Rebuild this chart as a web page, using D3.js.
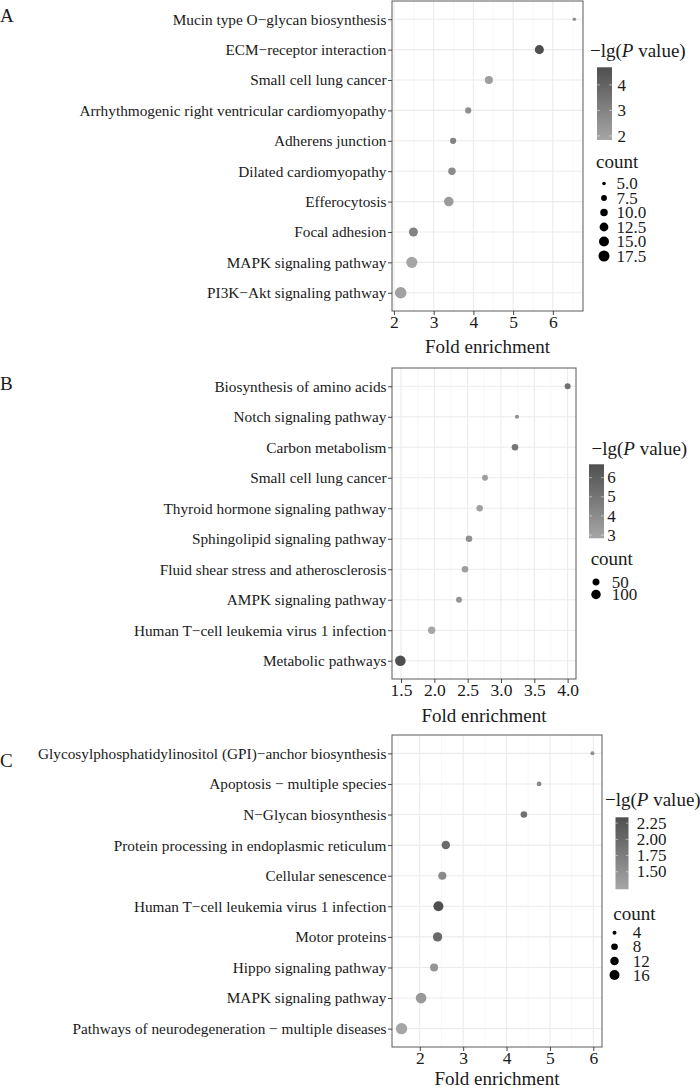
<!DOCTYPE html>
<html><head><meta charset="utf-8">
<script src="https://cdn.jsdelivr.net/npm/d3@7"></script>
<style>
body{margin:0;background:#fff}
svg{display:block}
text{font-family:"Liberation Serif","Times New Roman",serif;fill:#1a1a1a}
</style>
</head><body>
<svg id="chart" width="700" height="1089"></svg>
<script>
// ---------- Panel A data ----------
const termsA = ["Mucin type O\u2212glycan biosynthesis","ECM\u2212receptor interaction","Small cell lung cancer",
  "Arrhythmogenic right ventricular cardiomyopathy","Adherens junction","Dilated cardiomyopathy","Efferocytosis",
  "Focal adhesion","MAPK signaling pathway","PI3K\u2212Akt signaling pathway"];
const foldA  = [6.54, 5.66, 4.39, 3.87, 3.49, 3.46, 3.38, 2.49, 2.45, 2.17];
const countA = [5, 13, 11, 8, 8, 10, 14, 13, 18, 19];
const lgpA   = [2.5, 4.69, 2.1, 2.6, 3.0, 2.7, 2.2, 3.0, 1.84, 2.0];
const xTicksA = [2, 3, 4, 5, 6];
const colorBreaksA = [2, 3, 4];
const sizeBreaksA = [5, 7.5, 10, 12.5, 15, 17.5];
const sizeLabelsA = ["5.0","7.5","10.0","12.5","15.0","17.5"];

// ---------- Panel B data ----------
const termsB = ["Biosynthesis of amino acids","Notch signaling pathway","Carbon metabolism","Small cell lung cancer",
  "Thyroid hormone signaling pathway","Sphingolipid signaling pathway","Fluid shear stress and atherosclerosis",
  "AMPK signaling pathway","Human T\u2212cell leukemia virus 1 infection","Metabolic pathways"];
const foldB  = [4.0, 3.24, 3.21, 2.76, 2.68, 2.52, 2.46, 2.37, 1.96, 1.49];
const countB = [34, 10, 43, 34, 40, 43, 43, 34, 57, 127];
const lgpB   = [5.2, 3.8, 5.0, 3.2, 3.1, 3.7, 3.2, 3.6, 2.83, 6.7];
const xTicksB = [1.5, 2.0, 2.5, 3.0, 3.5, 4.0];
const xTickLabelsB = ["1.5","2.0","2.5","3.0","3.5","4.0"];
const colorBreaksB = [3, 4, 5, 6];
const sizeBreaksB = [50, 100];
const sizeLabelsB = ["50","100"];

// ---------- Panel C data ----------
const termsC = ["Glycosylphosphatidylinositol (GPI)\u2212anchor biosynthesis","Apoptosis \u2212 multiple species",
  "N\u2212Glycan biosynthesis","Protein processing in endoplasmic reticulum","Cellular senescence",
  "Human T\u2212cell leukemia virus 1 infection","Motor proteins","Hippo signaling pathway","MAPK signaling pathway",
  "Pathways of neurodegeneration \u2212 multiple diseases"];
const foldC  = [5.98, 4.75, 4.40, 2.60, 2.52, 2.43, 2.41, 2.33, 2.03, 1.58];
const countC = [4, 5, 8, 12, 11, 16, 14, 11, 18, 20];
const lgpC   = [1.5, 1.6, 1.9, 2.0, 1.6, 2.34, 2.0, 1.45, 1.4, 1.23];
const xTicksC = [2, 3, 4, 5, 6];
const colorBreaksC = [1.5, 1.75, 2.0, 2.25];
const colorLabelsC = ["1.50","1.75","2.00","2.25"];
const sizeBreaksC = [4, 8, 12, 16];
const sizeLabelsC = ["4","8","12","16"];

const LOW = "#a6a6a6", HIGH = "#4f4f4f";
const FONT = '"Liberation Serif","Times New Roman",serif';
const svg = d3.select("#chart");
svg.append("rect").attr("width",700).attr("height",1089).attr("fill","#fff");

function drawPanel(p){
  const g = svg.append("g");
  const ext = d3.extent(p.fold), pad = (ext[1]-ext[0])*0.05;
  const x = d3.scaleLinear().domain([ext[0]-pad, ext[1]+pad]).range([p.left, p.right]);
  const y = d3.scalePoint().domain(p.terms).range([p.top, p.bottom]).padding(0.6);
  const color = d3.scaleLinear().domain(d3.extent(p.lgp)).range([LOW, HIGH]).interpolate(d3.interpolateRgb);
  const r = d3.scaleRadial().domain(d3.extent(p.count)).range(p.rRange);

  // panel letter
  g.append("text").attr("x",0).attr("y",p.letterY).attr("dy","0.35em")
    .style("font-size","19px").text(p.letter);

  // minor grid
  const minor = [];
  const step = p.ticks[1]-p.ticks[0];
  for (let v = p.ticks[0]-step/2; v <= x.domain()[1]; v += step) if (v >= x.domain()[0]) minor.push(v);
  g.selectAll(null).data(minor).join("line")
    .attr("x1",d=>x(d)).attr("x2",d=>x(d)).attr("y1",p.top).attr("y2",p.bottom)
    .attr("stroke","#f3f3f3").attr("stroke-width",0.6);
  // major grid
  g.selectAll(null).data(p.ticks).join("line")
    .attr("x1",d=>x(d)).attr("x2",d=>x(d)).attr("y1",p.top).attr("y2",p.bottom)
    .attr("stroke","#ebebeb").attr("stroke-width",1.1);
  g.selectAll(null).data(p.terms).join("line")
    .attr("x1",p.left).attr("x2",p.right).attr("y1",d=>y(d)).attr("y2",d=>y(d))
    .attr("stroke","#ebebeb").attr("stroke-width",1.1);

  // points
  g.selectAll(null).data(p.terms.map((t,i)=>({t, f:p.fold[i], c:p.count[i], v:p.lgp[i]}))).join("circle")
    .attr("cx",d=>x(d.f)).attr("cy",d=>y(d.t)).attr("r",d=>r(d.c)).attr("fill",d=>color(d.v));

  // border
  g.append("rect").attr("x",p.left).attr("y",p.top).attr("width",p.right-p.left).attr("height",p.bottom-p.top)
    .attr("fill","none").attr("stroke","#5a5a5a").attr("stroke-width",1);

  // axes
  const ya = g.append("g").attr("transform",`translate(${p.left},0)`)
    .call(d3.axisLeft(y).tickSize(4).tickPadding(1.5));
  ya.attr("font-family",FONT);
  ya.select(".domain").remove();
  ya.selectAll(".tick line").attr("stroke","#444");
  ya.selectAll(".tick text").style("font-size","15.3px").attr("fill","#1a1a1a");

  const xa = g.append("g").attr("transform",`translate(0,${p.bottom})`)
    .call(d3.axisBottom(x).tickValues(p.ticks).tickSize(4).tickPadding(1)
      .tickFormat((d,i)=>p.tickLabels ? p.tickLabels[i] : d3.format("d")(d)));
  xa.attr("font-family",FONT);
  xa.select(".domain").remove();
  xa.selectAll(".tick line").attr("stroke","#444");
  xa.selectAll(".tick text").style("font-size","17.5px").attr("fill","#1a1a1a");

  g.append("text").attr("x",(p.left+p.right)/2).attr("y",p.titleY).attr("dy","0.33em")
    .attr("text-anchor","middle").style("font-size","19px").text("Fold enrichment");

  // colour legend
  const L = p.legend;
  const t = g.append("text").attr("x",L.titleX).attr("y",L.titleY).attr("dy","0.33em").style("font-size","19px");
  t.append("tspan").text("\u2212lg(");
  t.append("tspan").style("font-style","italic").text("P");
  t.append("tspan").text(" value)");

  const gid = "grad"+p.letter;
  const grad = svg.append("defs").append("linearGradient").attr("id",gid)
    .attr("x1",0).attr("y1",1).attr("x2",0).attr("y2",0);
  const cd = color.domain();
  d3.range(0,1.0001,0.1).forEach(s=>{
    grad.append("stop").attr("offset",s).attr("stop-color",color(cd[0]+s*(cd[1]-cd[0])));
  });
  g.append("rect").attr("x",L.barX).attr("y",L.barTop).attr("width",L.barW).attr("height",L.barBot-L.barTop)
    .attr("fill",`url(#${gid})`);
  const ly = d3.scaleLinear().domain(cd).range([L.barBot, L.barTop]);
  p.colorBreaks.forEach((b,i)=>{
    [[L.barX, L.barX+L.barW/5],[L.barX+L.barW*4/5, L.barX+L.barW]].forEach(([a,bb])=>{
      g.append("line").attr("x1",a).attr("x2",bb).attr("y1",ly(b)).attr("y2",ly(b))
        .attr("stroke","#fff").attr("stroke-opacity",0.6).attr("stroke-width",0.8);
    });
    g.append("text").attr("x",L.labelX).attr("y",ly(b)).attr("dy","0.33em").style("font-size","17px")
      .text(p.colorLabels ? p.colorLabels[i] : b);
  });

  // size legend
  g.append("text").attr("x",L.countTitleX).attr("y",L.countTitleY).attr("dy","0.33em")
    .style("font-size","19px").text("count");
  p.sizeBreaks.forEach((b,i)=>{
    const yy = L.itemY0 + i*L.itemStep;
    g.append("circle").attr("cx",L.circX).attr("cy",yy).attr("r",r(b)).attr("fill","#000");
    g.append("text").attr("x",L.itemLabelX).attr("y",yy).attr("dy","0.33em").style("font-size","17px")
      .text(p.sizeLabels[i]);
  });
}

drawPanel({letter:"A", terms:termsA, fold:foldA, count:countA, lgp:lgpA, ticks:xTicksA,
  colorBreaks:colorBreaksA, sizeBreaks:sizeBreaksA, sizeLabels:sizeLabelsA, rRange:[1.8,5.8],
  left:392, right:583, top:1, bottom:311, letterY:15, titleY:347,
  legend:{titleX:590, titleY:50.7, barX:597, barW:15, barTop:67.3, barBot:140, labelX:617.5,
    countTitleX:596, countTitleY:161.7, circX:604, itemY0:183.5, itemStep:14.5, itemLabelX:616.5}});

drawPanel({letter:"B", terms:termsB, fold:foldB, count:countB, lgp:lgpB, ticks:xTicksB, tickLabels:xTickLabelsB,
  colorBreaks:colorBreaksB, sizeBreaks:sizeBreaksB, sizeLabels:sizeLabelsB, rRange:[2,5.3],
  left:392, right:576, top:368, bottom:679, letterY:383, titleY:716,
  legend:{titleX:591.5, titleY:448.3, barX:589, barW:15, barTop:464.3, barBot:538.3, labelX:607.3,
    countTitleX:590.7, countTitleY:558.3, circX:596, itemY0:582, itemStep:12.5, itemLabelX:611.7}});

drawPanel({letter:"C", terms:termsC, fold:foldC, count:countC, lgp:lgpC, ticks:xTicksC,
  colorBreaks:colorBreaksC, colorLabels:colorLabelsC, sizeBreaks:sizeBreaksC, sizeLabels:sizeLabelsC, rRange:[2,5.66],
  left:392, right:602, top:735, bottom:1047, letterY:760, titleY:1079,
  legend:{titleX:605, titleY:800, barX:615.5, barW:13, barTop:817.3, barBot:889.3, labelX:636.7,
    countTitleX:613.3, countTitleY:913.3, circX:614.5, itemY0:932.7, itemStep:14.1, itemLabelX:632.7}});

svg.selectAll("text").style("font-family", FONT);
</script>
</body></html>
